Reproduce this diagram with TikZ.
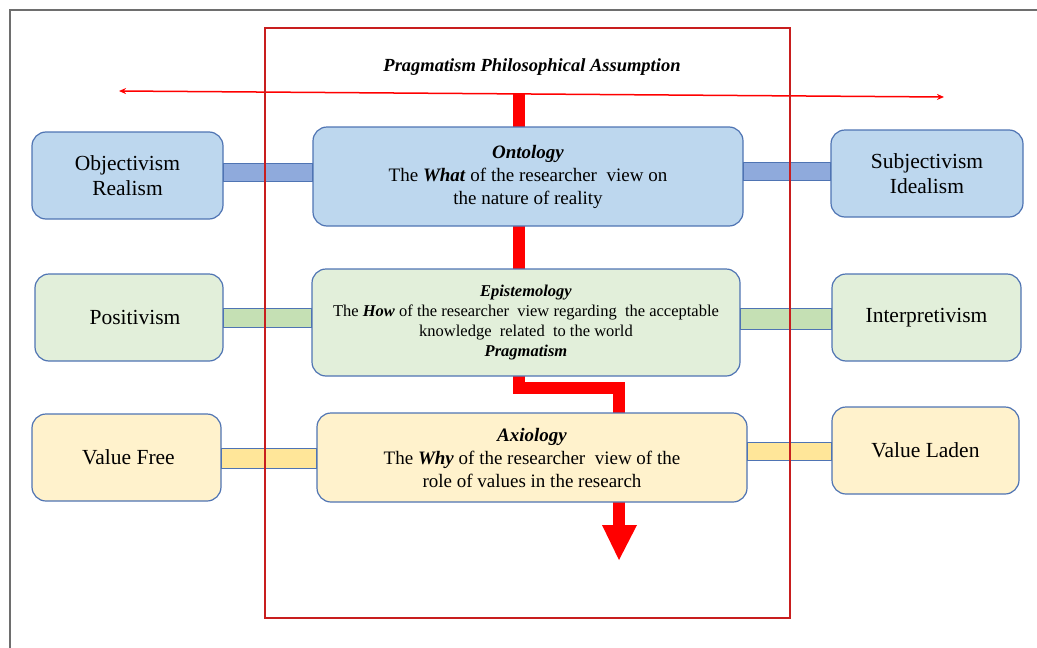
\documentclass[tikz,border=0pt]{standalone}
\usepackage{fontspec}
\setmainfont{Liberation Serif}
\usetikzlibrary{arrows.meta}

\definecolor{frameGray}{HTML}{6E6E6E}
\definecolor{boxEdge}{HTML}{4F74B3}
\definecolor{blueFill}{HTML}{BDD7EE}
\definecolor{blueBar}{HTML}{8FAADC}
\definecolor{greenFill}{HTML}{E2EFDA}
\definecolor{greenBar}{HTML}{C5E0B4}
\definecolor{yellowFill}{HTML}{FFF2CC}
\definecolor{yellowBar}{HTML}{FFE699}
\definecolor{frameRed}{HTML}{C81E1E}
\definecolor{flowRed}{HTML}{FF0000}

\tikzset{
  card/.style={draw=boxEdge, line width=1.2pt, rounded corners=14pt,
    align=center, inner sep=2pt, text=black},
  sidecard/.style={card, minimum width=#1, minimum height=87pt,
    font=\fontsize{21.5}{25.5}\selectfont},
  maincard/.style={card, font=\fontsize{19}{23}\selectfont},
  bar/.style={draw=boxEdge, line width=1pt},
  flow/.style={draw=flowRed, line width=12pt, line join=miter, line cap=butt},
}

\begin{document}
\begin{tikzpicture}[x=1pt, y=-1pt]
\useasboundingbox (0,0) rectangle (1037,648);

% page frame
\draw[frameGray, line width=1.5pt] (10,648) -- (10,10) -- (1037,10);

% horizontal double arrow and the downward flow
\coordinate (la) at (119,91);
\coordinate (ra) at (944,97);
\draw[flowRed, line width=1.5pt, {Stealth[length=7pt,width=6pt]}-{Stealth[length=7pt,width=6pt]}] (la) -- (ra);

\coordinate (f0) at (519,93.5);
\coordinate (f1) at (519,387.5);
\coordinate (f2) at (619,387.5);
\coordinate (f3) at (619,560);
\draw[flow] (f0) -- (f1) -- (f2) -- (619,525);
\fill[flowRed] (602,525) -- (637,525) -- (f3) -- cycle;

% side boxes
\node[sidecard=191pt, fill=blueFill]   (obj)    at (127.5,175.5) {Objectivism\\Realism};
\node[sidecard=192pt, fill=blueFill]   (subj)   at (927,173.5)   {Subjectivism\\Idealism};
\node[sidecard=188pt, fill=greenFill]  (pos)    at (129,317.5)   {\hspace*{12pt}Positivism};
\node[sidecard=189pt, fill=greenFill]  (intp)   at (926.5,317.5) {Interpretivism};
\node[sidecard=189pt, fill=yellowFill] (vfree)  at (126.5,457.5) {\hspace*{4pt}Value Free};
\node[sidecard=187pt, fill=yellowFill] (vladen) at (925.5,450.5) {Value Laden};

% central boxes
\node[maincard, fill=blueFill, minimum width=430pt, minimum height=99pt] (ont) at (528,176.5)
  {\textbf{\textit{Ontology}}\\The \textbf{\textit{What}} of the researcher~ view on\\the nature of reality};
\node[card, fill=greenFill, minimum width=428pt, minimum height=107pt,
      font=\fontsize{16.5}{20}\selectfont] (epi) at (526,322.5)
  {\textbf{\textit{Epistemology}}\\The \textbf{\textit{How}} of the researcher~ view regarding~ the acceptable\\knowledge~ related~ to the world\\\textbf{\textit{Pragmatism}}};
\node[maincard, fill=yellowFill, minimum width=430pt, minimum height=89pt] (axi) at (532,457.5)
  {\textbf{\textit{Axiology}}\\The \textbf{\textit{Why}} of the researcher~ view of the\\role of values in the research};

% bars joining the side boxes to the central boxes
\draw[bar, fill=blueBar]    (obj.east |- 0,163)  rectangle (ont.west |- 0,181);
\draw[bar, fill=blueBar]    (ont.east |- 0,162)  rectangle (subj.west |- 0,180);
\draw[bar, fill=greenBar]   (pos.east |- 0,308)  rectangle (epi.west |- 0,327);
\draw[bar, fill=greenBar]   (epi.east |- 0,308)  rectangle (intp.west |- 0,329);
\draw[bar, fill=yellowBar]  (vfree.east |- 0,448) rectangle (axi.west |- 0,468);
\draw[bar, fill=yellowBar]  (axi.east |- 0,442)  rectangle (vladen.west |- 0,460);

% pragmatism frame and its title
\draw[frameRed, line width=1.5pt] (265,28) rectangle (790,618);
\node[font=\fontsize{18.5}{22}\selectfont\bfseries\itshape] (title) at (532,67)
  {Pragmatism Philosophical Assumption};
\end{tikzpicture}
\end{document}
